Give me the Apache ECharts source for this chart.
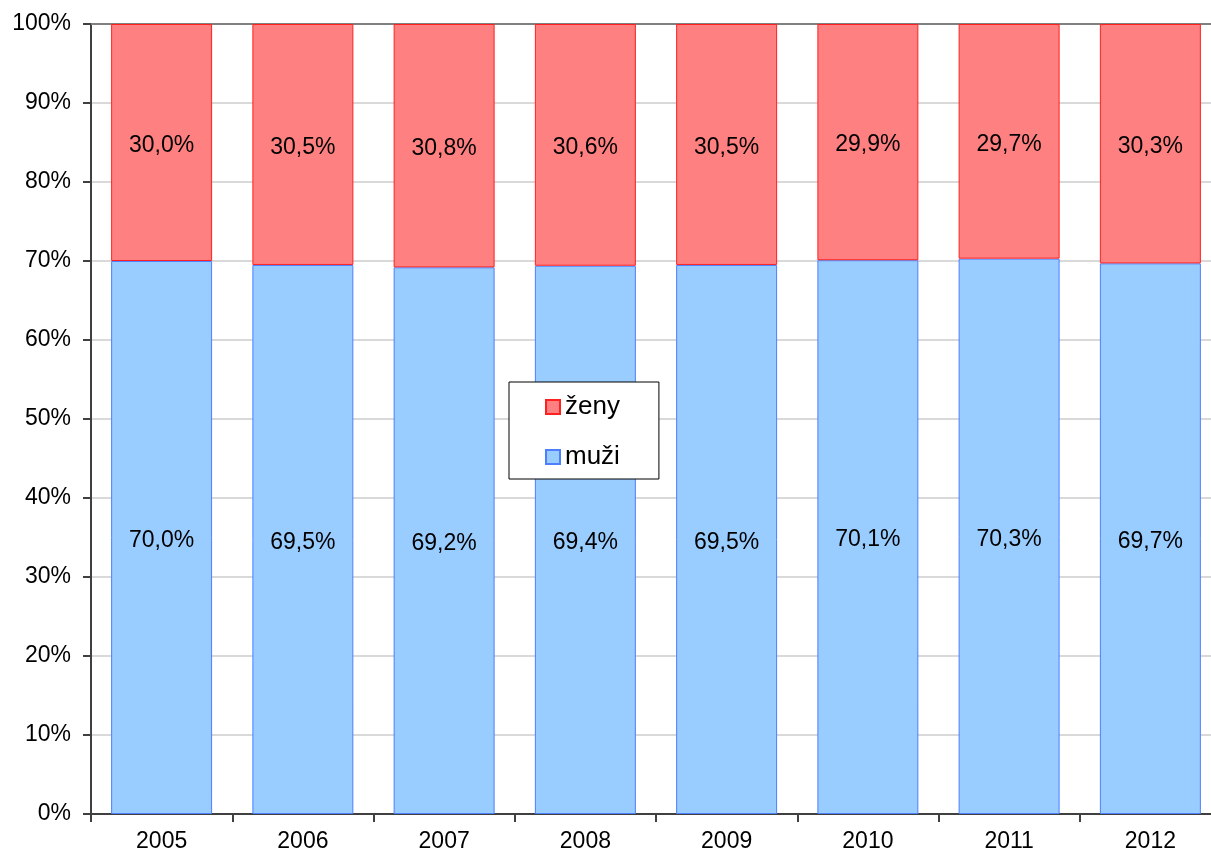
<!DOCTYPE html>
<html><head><meta charset="utf-8">
<script src="https://cdn.jsdelivr.net/npm/echarts@6/dist/echarts.min.js"></script>
<style>html,body{margin:0;padding:0;background:#fff;overflow:hidden}#c{width:1221px;height:856px}</style>
</head><body><div id="c"></div>
<script>
var categories = ['2005','2006','2007','2008','2009','2010','2011','2012'];
var muzi = [70.0, 69.5, 69.2, 69.4, 69.5, 70.1, 70.3, 69.7];
var zeny = [30.0, 30.5, 30.8, 30.6, 30.5, 29.9, 29.7, 30.3];
var yTicks = [0,10,20,30,40,50,60,70,80,90,100];

var chart = echarts.init(document.getElementById('c'), null, {renderer:'canvas'});
var font = 'Liberation Sans, Arial, sans-serif';
var fs = 23;
function fmt(p){ return p.value.toFixed(1).replace('.', ',') + '%'; }
chart.setOption({
  animation:false,
  textStyle:{fontFamily:font},
  grid:{left:91, top:24, right:0, bottom:42, containLabel:false},
  legend:{
    orient:'vertical', left:509, top:382,
    data:['ženy','muži'],
    icon:'rect',
    backgroundColor:'#fff', borderColor:'#000', borderWidth:1,
    padding:[12,39,9,36], itemGap:24, itemWidth:14, itemHeight:14,
    textStyle:{fontSize:26, color:'#000', fontFamily:font}
  },
  xAxis:[{
    type:'category', data:categories,
    axisLine:{lineStyle:{color:'#404040', width:2}},
    axisTick:{show:true, length:8, lineStyle:{color:'#404040', width:2}},
    axisLabel:{fontSize:fs, color:'#000', margin:16, fontFamily:font},
    splitLine:{show:false}
  },{
    type:'category', data:categories, position:'top',
    axisLine:{lineStyle:{color:'#808080', width:2}},
    axisTick:{show:false}, axisLabel:{show:false}
  }],
  yAxis:{
    type:'value', min:0, max:100, interval:10,
    axisLine:{show:true, lineStyle:{color:'#404040', width:2}},
    axisTick:{show:true, length:8, lineStyle:{color:'#404040', width:2}},
    axisLabel:{fontSize:fs, color:'#000', margin:20, formatter: function(v){ return yTicks.indexOf(v) >= 0 ? v + '%' : ''; }, fontFamily:font},
    splitLine:{lineStyle:{color:'#d9d9d9', width:2}}
  },
  series:[{
    name:'muži', type:'bar', stack:'a', data:muzi, barCategoryGap:'28.5%',
    itemStyle:{color:'#99CCFF', borderColor:'#4D7FFF', borderWidth:1},
    label:{show:true, position:'inside', offset:[0,3], fontSize:fs, color:'#000', formatter:fmt, fontFamily:font}
  },{
    name:'ženy', type:'bar', stack:'a', data:zeny, barCategoryGap:'28.5%',
    itemStyle:{color:'#FF8080', borderColor:'#FF2020', borderWidth:1},
    label:{show:true, position:'inside', offset:[0,3], fontSize:fs, color:'#000', formatter:fmt, fontFamily:font}
  }]
});
</script></body></html>
